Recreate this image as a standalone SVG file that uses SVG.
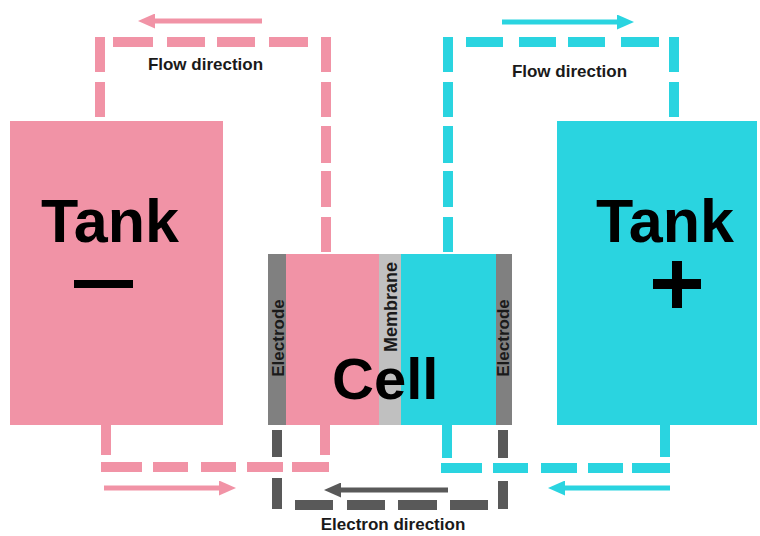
<svg xmlns="http://www.w3.org/2000/svg" width="760" height="536" viewBox="0 0 760 536">
<style>
.pink{fill:#F193A6}
.cyan{fill:#2AD4E0}
.pp{stroke:#F193A6;stroke-width:10;fill:none}
.cp{stroke:#2AD4E0;stroke-width:10;fill:none}
.gp{stroke:#595959;stroke-width:10;fill:none}
.big{font-family:"Liberation Sans",Arial,sans-serif;font-weight:bold;fill:#000}
.lbl{font-family:"Liberation Sans",Arial,sans-serif;font-weight:bold;font-size:17px;fill:#1a1a1a;text-anchor:middle}
.vt{font-family:"Liberation Sans",Arial,sans-serif;font-weight:bold;fill:#1a1a1a;text-anchor:middle}
</style>
<defs>
<marker id="ap" markerUnits="userSpaceOnUse" markerWidth="17" markerHeight="15" refX="9" refY="7.5" orient="auto"><path d="M0,0 L17,7.5 L0,15 z" fill="#F193A6"/></marker>
<marker id="ac" markerUnits="userSpaceOnUse" markerWidth="17" markerHeight="15" refX="9" refY="7.5" orient="auto"><path d="M0,0 L17,7.5 L0,15 z" fill="#2AD4E0"/></marker>
<marker id="ag" markerUnits="userSpaceOnUse" markerWidth="17" markerHeight="15" refX="9" refY="7.5" orient="auto"><path d="M0,0 L17,7.5 L0,15 z" fill="#595959"/></marker>
</defs>

<g id="connectors">
  <path class="pp" d="M100,37 V72 M100,82 V117 M113,42 H153 M167,42 H205 M217,42 H255 M269,42 H308 M326,37 V72 M326,82 V117 M326,126 V163 M326,171 V207 M326,217 V252"/>
  <path class="cp" d="M448,37 V72 M448,82 V117 M448,126 V163 M448,171 V207 M448,217 V252 M466,42 H503 M519,42 H556 M568,42 H605 M621,42 H659 M674,37 V72 M674,82 V117"/>
  <path class="pp" d="M106,425 V455 M325,425 V455 M101,467 H142 M153,467 H188 M201,467 H236 M247,467 H283 M292,467 H329"/>
  <path class="cp" d="M447,425 V458 M665,425 V457 M441,468 H482 M493,468 H528 M541,468 H577 M588,468 H623 M632,468 H670"/>
  <path class="gp" d="M277,430 V457 M277,478 V509 M503,430 V458 M503,481 V509 M295,505 H333 M347,505 H385 M398,505 H437 M450,505 H488"/>
  <line x1="262" y1="21" x2="146" y2="21" stroke="#F193A6" stroke-width="5" marker-end="url(#ap)"/>
  <line x1="502" y1="22" x2="626" y2="22" stroke="#2AD4E0" stroke-width="5" marker-end="url(#ac)"/>
  <line x1="104" y1="488" x2="228" y2="488" stroke="#F193A6" stroke-width="5" marker-end="url(#ap)"/>
  <line x1="670" y1="488" x2="556" y2="488" stroke="#2AD4E0" stroke-width="5" marker-end="url(#ac)"/>
  <line x1="448" y1="490" x2="332" y2="490" stroke="#595959" stroke-width="5" marker-end="url(#ag)"/>
</g>

<g id="tank-neg">
  <rect class="pink" x="10" y="121" width="213" height="304"/>
  <text class="big" x="41" y="242" font-size="61">Tank</text>
  <rect x="74" y="280" width="59" height="8" fill="#000"/>
</g>

<g id="tank-pos">
  <rect class="cyan" x="557" y="121" width="200" height="304"/>
  <text class="big" x="596" y="242" font-size="61">Tank</text>
  <rect x="653" y="279" width="48" height="10" fill="#000"/>
  <rect x="672" y="261" width="10" height="47" fill="#000"/>
</g>

<g id="cell">
  <rect x="268" y="254" width="18" height="171" fill="#808080"/>
  <rect class="pink" x="286" y="254" width="93" height="171"/>
  <rect x="379" y="254" width="22" height="171" fill="#C0C0C0"/>
  <rect class="cyan" x="401" y="254" width="95" height="171"/>
  <rect x="496" y="254" width="16" height="171" fill="#808080"/>
  <text class="vt" font-size="17" transform="translate(284,338) rotate(-90)">Electrode</text>
  <text class="vt" font-size="18" transform="translate(397,307) rotate(-90)">Membrane</text>
  <text class="vt" font-size="17" transform="translate(509,338) rotate(-90)">Electrode</text>
  <text class="big" x="332" y="399" font-size="58">Cell</text>
</g>

<g id="labels">
  <text class="lbl" x="205.5" y="70">Flow direction</text>
  <text class="lbl" x="569.5" y="77">Flow direction</text>
  <text class="lbl" x="393" y="530">Electron direction</text>
</g>
</svg>
